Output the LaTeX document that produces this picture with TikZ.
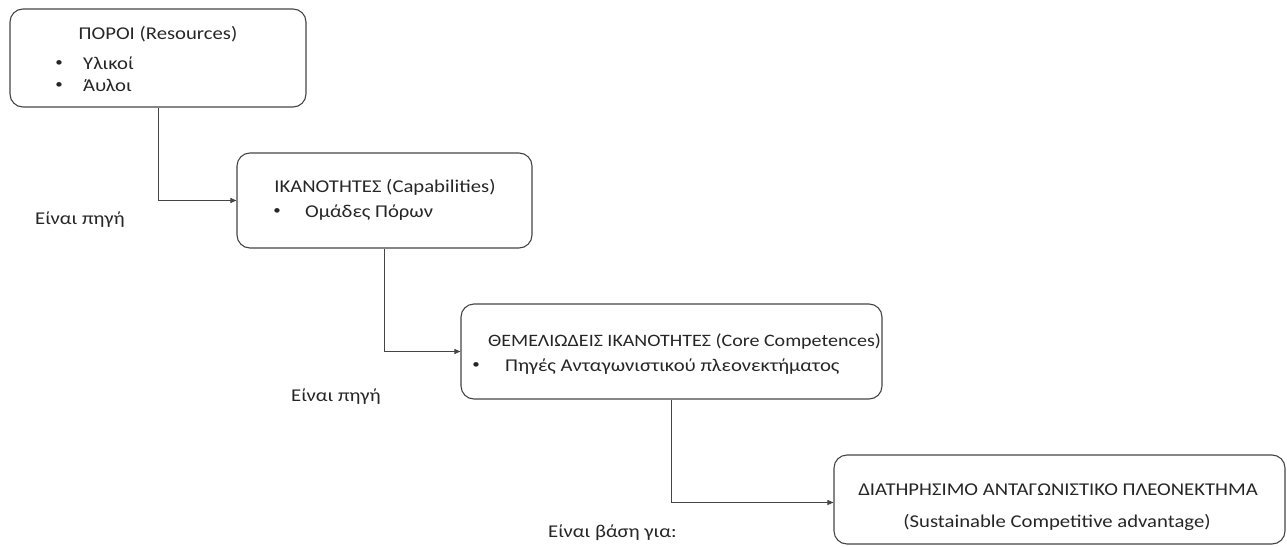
\documentclass[tikz,border=0pt]{standalone}
\usepackage{fontspec}
\setmainfont{Carlito}[FakeStretch=1.15]
\usetikzlibrary{arrows.meta}
\definecolor{txt}{HTML}{262626}
\definecolor{edge}{HTML}{454545}
\tikzset{
  box/.style={draw=edge, line width=1.1pt, rounded corners=13pt, rectangle, inner sep=0pt},
  conn/.style={draw=edge, line width=0.9pt, -{Triangle[length=6pt,width=5pt]}},
  lbl/.style={anchor=base west, inner sep=0pt, text=txt, font=\fontsize{18}{21}\selectfont},
  clbl/.style={anchor=base, inner sep=0pt, text=txt, font=\fontsize{18}{21}\selectfont},
  bul/.style={anchor=center, inner sep=0pt, text=txt, font=\fontsize{13}{15}\selectfont},
}
\begin{document}
\begin{tikzpicture}[x=1pt,y=-1pt]
\useasboundingbox (0,0) rectangle (1287,546);
% boxes
\node[box, minimum width=296pt, minimum height=98pt] (b1) at (158,58) {};
\node[box, minimum width=295pt, minimum height=95pt] (b2) at (384.5,200.5) {};
\node[box, minimum width=421pt, minimum height=95pt] (b3) at (671.5,351.5) {};
\node[box, minimum width=451pt, minimum height=89pt] (b4) at (1059.5,499.5) {};
% box 1 text
\node[clbl] (t1) at (158,39) {ΠΟΡΟΙ (Resources)};
\node[bul] (t1a) at (59,64) {•};
\node[lbl] (t1b) at (83,69) {Υλικοί};
\node[bul] (t1c) at (59,86) {•};
\node[lbl] (t1d) at (83,91) {Άυλοι};
% box 2 text
\node[clbl] (t2) at (385,192) {ΙΚΑΝΟΤΗΤΕΣ (Capabilities)};
\node[bul] (t2a) at (277,212) {•};
\node[lbl] (t2b) at (305,217) {Ομάδες Πόρων};
% box 3 text
\node[lbl, font=\fontsize{17.4}{21}\selectfont] (t3) at (488,346) {ΘΕΜΕΛΙΩΔΕΙΣ ΙΚΑΝΟΤΗΤΕΣ (Core Competences)};
\node[bul] (t3a) at (476,366) {•};
\node[lbl] (t3b) at (505,371) {Πηγές Ανταγωνιστικού πλεονεκτήματος};
% box 4 text
\node[clbl] (t4) at (1058,495) {ΔΙΑΤΗΡΗΣΙΜΟ ΑΝΤΑΓΩΝΙΣΤΙΚΟ ΠΛΕΟΝΕΚΤΗΜΑ};
\node[clbl] (t4b) at (1057,527) {(Sustainable Competitive advantage)};
% connectors
\draw[conn] (b1.south) |- (b2.west);
\draw[conn] (b2.south) |- (b3.west);
\draw[conn] (b3.south) |- ([yshift=-3pt]b4.west);
% labels
\node[lbl] (l1) at (35,224) {Είναι πηγή};
\node[lbl] (l2) at (291,401) {Είναι πηγή};
\node[lbl] (l3) at (548,537) {Είναι βάση για:};
\end{tikzpicture}
\end{document}
